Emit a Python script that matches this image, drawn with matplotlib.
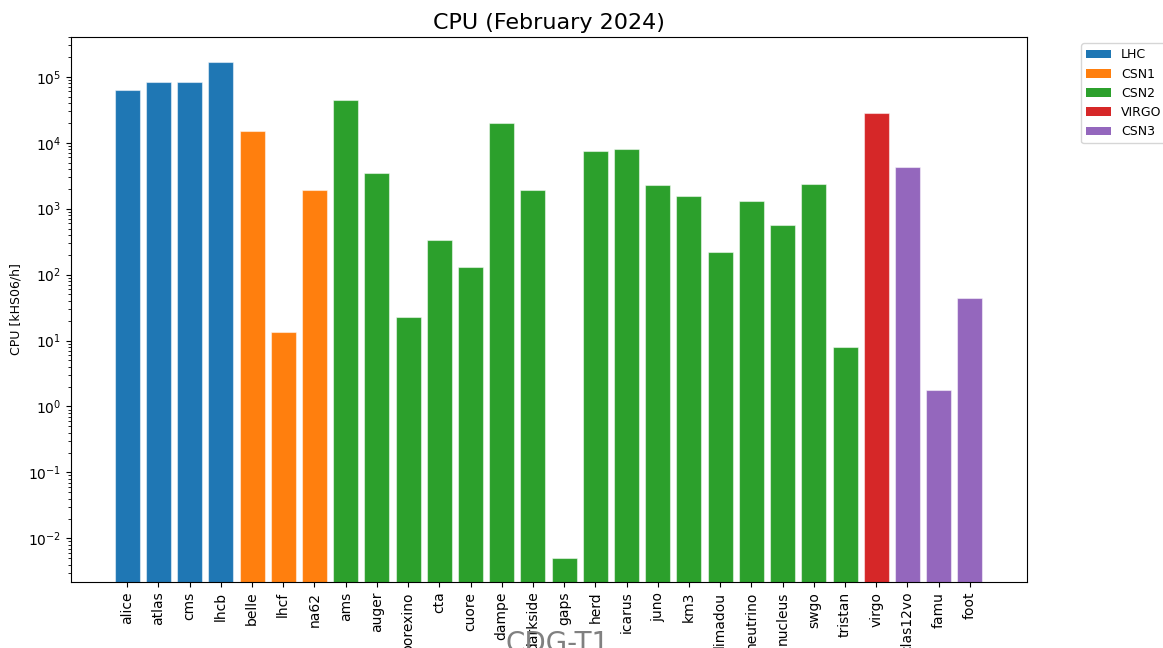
import matplotlib
matplotlib.use("Agg")
import matplotlib.pyplot as plt
from matplotlib.patches import Patch

experiments = ["alice", "atlas", "cms", "lhcb",
               "belle", "lhcf", "na62",
               "ams", "auger", "borexino", "cta", "cuore", "dampe", "darkside", "gaps",
               "herd", "icarus", "juno", "km3", "limadou", "neutrino", "nucleus", "swgo", "tristan",
               "virgo",
               "clas12vo", "famu", "foot"]
groups = ["LHC"] * 4 + ["CSN1"] * 3 + ["CSN2"] * 17 + ["VIRGO"] + ["CSN3"] * 3
cpu = [62300, 83200, 83200, 169000,
       15200, 13.6, 1940,
       44000, 3440, 22.8, 338, 129, 19700, 1940, 0.00505,
       7480, 7940, 2260, 1540, 218, 1306, 571, 2340, 8.07,
       27900,
       4330, 1.78, 44.6]
group_names = ["LHC", "CSN1", "CSN2", "VIRGO", "CSN3"]
group_colors = {"LHC": "#1f77b4", "CSN1": "#ff7f0e", "CSN2": "#2ca02c",
                "VIRGO": "#d62728", "CSN3": "#9467bd"}

fig = plt.figure(figsize=(11.63, 6.48), dpi=100)
ax = fig.add_axes([71 / 1163, 1 - 582 / 648, (1027 - 71) / 1163, (582 - 37) / 648])

x = list(range(len(experiments)))
ax.bar(x, cpu, width=0.8, color=[group_colors[g] for g in groups],
       edgecolor=(1, 1, 1, 0.5), linewidth=0.8)
ax.set_yscale("log")
ax.set_ylim(0.00218, 4.01e5)
ax.set_xlim(-1.8, len(experiments) - 1 + 1.83)
ax.set_xticks(x)
ax.set_xticklabels(experiments, rotation=90)
ax.set_ylabel("CPU [kHS06/h]", fontsize=9)
ax.set_title("CPU (February 2024)", fontsize=16)

handles = [Patch(facecolor=group_colors[g], label=g) for g in group_names]
ax.legend(handles=handles, loc="upper left", bbox_to_anchor=(1.05, 1), fontsize=9)

fig.text(557.5 / 1163, 1 - 652 / 648, "CDG-T1", fontsize=20, color="grey",
         ha="center", va="baseline", zorder=0)

fig.savefig("out.png", dpi=100)
